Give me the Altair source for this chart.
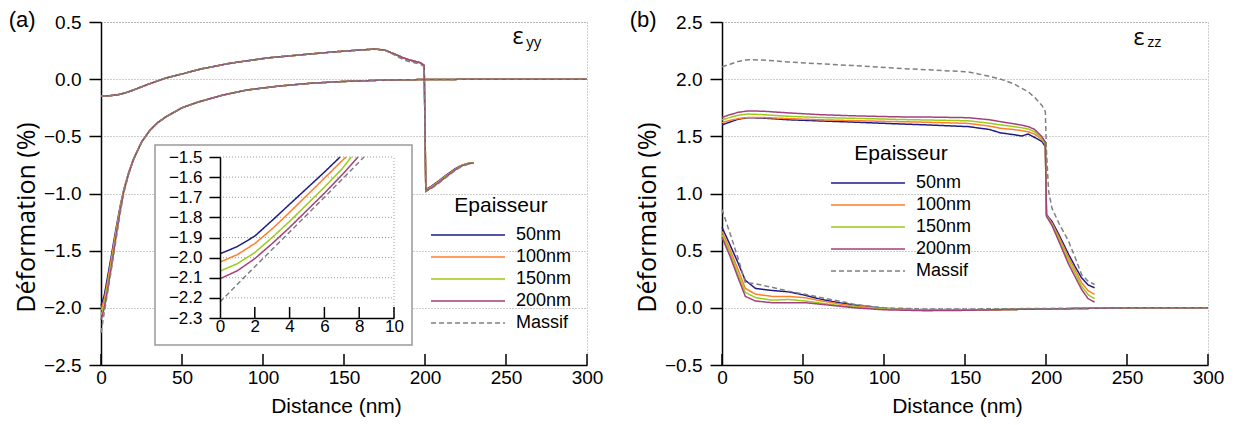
import altair as alt
import pandas as pd

FONT = "Liberation Sans"
TITLE_FONT = "Open Sans"
GRID = "#9a9a9a"

SERIES = ["50nm", "100nm", "150nm", "200nm", "Massif"]
COLORS = ["#1c1c88", "#ff7f2a", "#99cc1a", "#a3407e", "#808080"]
DASHES = [[1, 0], [1, 0], [1, 0], [1, 0], [5, 3]]

X_TICKS = [0, 50, 100, 150, 200, 250, 300]
A_Y_TICKS = [-2.5, -2.0, -1.5, -1.0, -0.5, 0.0, 0.5]
B_Y_TICKS = [-0.5, 0.0, 0.5, 1.0, 1.5, 2.0, 2.5]
IN_X_TICKS = [0, 2, 4, 6, 8, 10]
IN_Y_TICKS = [-2.3, -2.2, -2.1, -2.0, -1.9, -1.8, -1.7, -1.6, -1.5]

# ---- panel (a) eps_yy : film branch (0-230 nm)
A_FILM_X = [0, 5, 10, 15, 20, 30, 40, 50, 62, 80, 103, 125, 145, 160, 169, 175, 182, 186, 190, 194, 197, 199.5,
            200.5, 204, 208, 212, 215, 219, 223, 227, 230]
A_FILM_50 = [-0.148, -0.145, -0.137, -0.12, -0.095, -0.04, 0.01, 0.045, 0.09, 0.14, 0.186, 0.215, 0.24, 0.255, 0.263,
             0.255, 0.215, 0.19, 0.17, 0.155, 0.145, 0.12, -0.965, -0.935, -0.895, -0.85, -0.82, -0.78, -0.75, -0.735, -0.73]
A_FILM_100 = [-0.148, -0.145, -0.137, -0.12, -0.095, -0.04, 0.01, 0.045, 0.09, 0.14, 0.186, 0.215, 0.24, 0.255, 0.263,
              0.255, 0.215, 0.19, 0.17, 0.155, 0.145, 0.12, -0.97, -0.94, -0.9, -0.855, -0.825, -0.785, -0.752, -0.736, -0.73]
A_FILM_150 = [-0.148, -0.145, -0.137, -0.12, -0.095, -0.04, 0.01, 0.045, 0.09, 0.14, 0.186, 0.215, 0.24, 0.255, 0.263,
              0.255, 0.215, 0.19, 0.17, 0.155, 0.145, 0.12, -0.975, -0.945, -0.905, -0.86, -0.83, -0.788, -0.755, -0.738, -0.732]
A_FILM_200 = [-0.148, -0.145, -0.137, -0.12, -0.095, -0.04, 0.01, 0.045, 0.09, 0.14, 0.186, 0.215, 0.24, 0.255, 0.263,
              0.255, 0.215, 0.19, 0.17, 0.155, 0.145, 0.12, -0.978, -0.95, -0.91, -0.865, -0.833, -0.79, -0.757, -0.74, -0.733]
A_FILM_M = [-0.148, -0.145, -0.137, -0.12, -0.095, -0.04, 0.01, 0.045, 0.09, 0.14, 0.186, 0.215, 0.24, 0.255, 0.263,
            0.255, 0.205, 0.175, 0.155, 0.142, 0.132, 0.11, -0.985, -0.955, -0.915, -0.87, -0.838, -0.795, -0.76, -0.742, -0.735]

# ---- panel (a) eps_yy : substrate branch (0-300 nm)
A_SUB_X = [0, 2, 4, 6, 8, 10, 12, 14, 17, 20, 25, 30, 35, 40, 50, 60, 75, 90, 110, 130, 150, 175, 200, 250, 300]
A_SUB_50 = [-1.981, -1.893, -1.735, -1.575, -1.41, -1.25, -1.1, -0.97, -0.82, -0.7, -0.55, -0.45, -0.38, -0.33, -0.25,
            -0.2, -0.14, -0.095, -0.06, -0.035, -0.02, -0.008, -0.003, 0.0, 0.0]
A_SUB_100 = [-2.022, -1.93, -1.775, -1.605, -1.435, -1.27, -1.11, -0.975, -0.822, -0.7, -0.55, -0.45, -0.38, -0.33, -0.25,
             -0.2, -0.14, -0.095, -0.06, -0.035, -0.02, -0.008, -0.003, 0.0, 0.0]
A_SUB_150 = [-2.067, -1.975, -1.82, -1.65, -1.47, -1.29, -1.125, -0.98, -0.825, -0.702, -0.55, -0.45, -0.38, -0.33, -0.25,
             -0.2, -0.14, -0.095, -0.06, -0.035, -0.02, -0.008, -0.003, 0.0, 0.0]
A_SUB_200 = [-2.105, -2.005, -1.85, -1.68, -1.5, -1.31, -1.14, -0.99, -0.83, -0.705, -0.552, -0.45, -0.38, -0.33, -0.25,
             -0.2, -0.14, -0.095, -0.06, -0.035, -0.02, -0.008, -0.003, 0.0, 0.0]
A_SUB_M = [-2.22, -2.045, -1.873, -1.70, -1.52, -1.34, -1.16, -1.0, -0.835, -0.71, -0.555, -0.452, -0.382, -0.332, -0.252,
           -0.2, -0.14, -0.095, -0.06, -0.035, -0.02, -0.008, -0.003, 0.0, 0.0]

# ---- inset of panel (a): zoom on 0-10 nm
IN_X_50 = [0, 1, 2, 3, 4, 5, 6, 6.9]
IN_Y_50 = [-1.981, -1.945, -1.893, -1.815, -1.735, -1.655, -1.575, -1.5]
IN_X_100 = [0, 1, 2, 3, 4, 5, 6, 7, 7.24]
IN_Y_100 = [-2.022, -1.985, -1.93, -1.857, -1.775, -1.69, -1.605, -1.52, -1.5]
IN_X_150 = [0, 1, 2, 3, 4, 5, 6, 7, 7.55]
IN_Y_150 = [-2.067, -2.03, -1.975, -1.9, -1.82, -1.735, -1.65, -1.56, -1.5]
IN_X_200 = [0, 1, 2, 3, 4, 5, 6, 7, 7.93]
IN_Y_200 = [-2.105, -2.065, -2.005, -1.93, -1.85, -1.765, -1.68, -1.59, -1.5]
IN_X_M = [0, 2, 4, 6, 8.28]
IN_Y_M = [-2.22, -2.045, -1.873, -1.70, -1.5]

# ---- panel (b) eps_zz : film branch
B_FILM_X = [0, 5, 10, 16, 25, 41, 60, 80, 103, 111, 130, 152, 165, 172, 180, 185, 189, 193, 197.5, 199.6,
            200.3, 203.7, 208, 214, 218, 222, 226, 230]
B_FILM_50 = [1.60, 1.625, 1.65, 1.663, 1.66, 1.645, 1.635, 1.625, 1.612, 1.608, 1.598, 1.585, 1.56, 1.53, 1.515,
             1.503, 1.52, 1.49, 1.454, 1.41, 0.815, 0.756, 0.64, 0.466, 0.36, 0.262, 0.2, 0.175]
B_FILM_100 = [1.62, 1.64, 1.655, 1.665, 1.665, 1.655, 1.645, 1.638, 1.63, 1.628, 1.622, 1.613, 1.59, 1.57, 1.56,
              1.55, 1.54, 1.52, 1.47, 1.43, 0.81, 0.74, 0.62, 0.44, 0.33, 0.22, 0.15, 0.117]
B_FILM_150 = [1.645, 1.665, 1.685, 1.695, 1.69, 1.675, 1.665, 1.658, 1.65, 1.647, 1.642, 1.636, 1.615, 1.6, 1.585,
              1.575, 1.564, 1.54, 1.48, 1.44, 0.805, 0.73, 0.6, 0.41, 0.3, 0.19, 0.115, 0.08]
B_FILM_200 = [1.665, 1.69, 1.71, 1.722, 1.72, 1.705, 1.69, 1.68, 1.672, 1.67, 1.668, 1.663, 1.645, 1.628, 1.61,
              1.598, 1.585, 1.56, 1.497, 1.45, 0.80, 0.72, 0.58, 0.38, 0.27, 0.16, 0.08, 0.05]
B_FILM_M_X = [0, 5, 10, 16, 25, 41, 60, 80, 103, 111, 130, 152, 165, 172, 180, 185, 189, 193, 197.5, 199.6,
              200.2, 201.6, 203.7, 208, 214, 218, 222, 226, 230]
B_FILM_M = [2.108, 2.13, 2.155, 2.17, 2.168, 2.15, 2.135, 2.12, 2.10, 2.093, 2.08, 2.064, 2.025, 2.0, 1.96,
            1.92, 1.89, 1.84, 1.77, 1.715, 1.4, 1.02, 0.87, 0.74, 0.58, 0.44, 0.29, 0.233, 0.204]

# ---- panel (b) eps_zz : substrate branch
B_SUB_X = [0, 5, 10, 14.4, 20.6, 30.9, 41, 51.4, 61.7, 72, 82, 100, 125, 150, 175, 200, 250, 300]
B_SUB_50 = [0.704, 0.55, 0.39, 0.24, 0.17, 0.152, 0.14, 0.11, 0.073, 0.045, 0.024, -0.005, -0.02, -0.02, -0.015, -0.01, 0.0, 0.0]
B_SUB_100 = [0.67, 0.51, 0.33, 0.17, 0.12, 0.10, 0.10, 0.088, 0.06, 0.035, 0.015, -0.005, -0.02, -0.02, -0.015, -0.01, 0.0, 0.0]
B_SUB_150 = [0.64, 0.48, 0.29, 0.135, 0.09, 0.067, 0.073, 0.06, 0.04, 0.02, 0.007, -0.01, -0.022, -0.02, -0.015, -0.01, 0.0, 0.0]
B_SUB_200 = [0.617, 0.45, 0.26, 0.10, 0.06, 0.045, 0.045, 0.045, 0.03, 0.015, 0.0, -0.017, -0.025, -0.022, -0.015, -0.01, 0.0, 0.0]
B_SUB_M = [0.86, 0.65, 0.43, 0.22, 0.21, 0.18, 0.146, 0.118, 0.088, 0.06, 0.03, 0.0, -0.01, -0.01, -0.008, -0.005, 0.0, 0.0]

W, H = 486, 343
A_DOM = [-2.5, 0.5]
B_DOM = [-0.5, 2.5]


def frame(parts):
    rows = []
    for series, branch, xs, ys in parts:
        for x, y in zip(xs, ys):
            rows.append({"x": x, "y": y, "series": series, "branch": branch})
    return pd.DataFrame(rows)


df_a = frame([
    ("50nm", "film", A_FILM_X, A_FILM_50), ("100nm", "film", A_FILM_X, A_FILM_100),
    ("150nm", "film", A_FILM_X, A_FILM_150), ("200nm", "film", A_FILM_X, A_FILM_200),
    ("Massif", "film", A_FILM_X, A_FILM_M),
    ("50nm", "sub", A_SUB_X, A_SUB_50), ("100nm", "sub", A_SUB_X, A_SUB_100),
    ("150nm", "sub", A_SUB_X, A_SUB_150), ("200nm", "sub", A_SUB_X, A_SUB_200),
    ("Massif", "sub", A_SUB_X, A_SUB_M),
])
df_in = frame([
    ("50nm", "sub", IN_X_50, IN_Y_50), ("100nm", "sub", IN_X_100, IN_Y_100),
    ("150nm", "sub", IN_X_150, IN_Y_150), ("200nm", "sub", IN_X_200, IN_Y_200),
    ("Massif", "sub", IN_X_M, IN_Y_M),
])
df_b = frame([
    ("50nm", "film", B_FILM_X, B_FILM_50), ("100nm", "film", B_FILM_X, B_FILM_100),
    ("150nm", "film", B_FILM_X, B_FILM_150), ("200nm", "film", B_FILM_X, B_FILM_200),
    ("Massif", "film", B_FILM_M_X, B_FILM_M),
    ("50nm", "sub", B_SUB_X, B_SUB_50), ("100nm", "sub", B_SUB_X, B_SUB_100),
    ("150nm", "sub", B_SUB_X, B_SUB_150), ("200nm", "sub", B_SUB_X, B_SUB_200),
    ("Massif", "sub", B_SUB_X, B_SUB_M),
])


def xscale():
    return alt.Scale(domain=[0, 300], nice=False, zero=False)


def yscale(dom):
    return alt.Scale(domain=dom, nice=False, zero=False)


def cscale():
    return alt.Scale(domain=SERIES, range=COLORS)


def dscale():
    return alt.Scale(domain=SERIES, range=DASHES)


def main_x_axis():
    return alt.Axis(values=X_TICKS, format="d", grid=False, ticks=False, tickSize=0,
                    domainColor="black", domainWidth=1.5, labelPadding=3, labelFont=FONT,
                    labelFontSize=19, labelColor="black", labelFlush=False, labelOverlap=False,
                    title="Distance (nm)", titleFont=FONT, titleFontSize=21, titleFontWeight="normal",
                    titleColor="black", titleX=235, titleY=41, titleBaseline="middle", titleAlign="center")


def main_y_axis(vals):
    return alt.Axis(values=vals, format=".1f", grid=True, gridColor=GRID, gridDash=[1, 2], gridWidth=1,
                    domainColor="black", domainWidth=1.5, tickColor="black", tickWidth=1.5, tickSize=12,
                    labelPadding=8, labelFont=FONT, labelFontSize=19, labelColor="black",
                    labelFlush=False, labelOverlap=False,
                    title="Déformation (%)", titleFont=TITLE_FONT, titleFontSize=25, titleFontWeight="normal",
                    titleColor="black", titleX=-75, titleY=195, titleBaseline="middle", titleAlign="center")


def legend(lx, ly):
    return alt.Legend(title="Epaisseur", orient="none", legendX=lx, legendY=ly, direction="vertical",
                      symbolType="stroke", symbolSize=5476, symbolStrokeWidth=1.5, clipHeight=22,
                      rowPadding=0, labelOffset=10, labelFont=FONT, labelFontSize=18, labelColor="black",
                      titleFont=FONT, titleFontSize=21, titleFontWeight="normal", titleColor="black",
                      titleAnchor="middle", titlePadding=8, padding=0)


def main_lines(df, dom, yvals, lg):
    return alt.Chart(df).mark_line(strokeWidth=1.5).encode(
        x=alt.X("x:Q", scale=xscale(), axis=main_x_axis()),
        y=alt.Y("y:Q", scale=yscale(dom), axis=main_y_axis(yvals)),
        color=alt.Color("series:N", scale=cscale(), legend=lg),
        strokeDash=alt.StrokeDash("series:N", scale=dscale(), legend=lg),
        detail="branch:N",
    )


def inward_x_ticks():
    return alt.Chart(pd.DataFrame({"x": X_TICKS})).mark_rule(color="black", strokeWidth=1.5).encode(
        x=alt.X("x:Q", scale=xscale()),
        y=alt.value(H), y2=alt.value(H - 11),
    )


def text_layer(x, y, t, dom, size, font, baseline="middle"):
    df = pd.DataFrame({"x": [x], "y": [y], "t": [t]})
    return alt.Chart(df).mark_text(align="left", baseline=baseline, font=font, fontSize=size,
                                   color="black").encode(
        x=alt.X("x:Q", scale=xscale()),
        y=alt.Y("y:Q", scale=yscale(dom)),
        text="t:N",
    )


# ---------------- panel (a)
main_a = alt.layer(
    main_lines(df_a, A_DOM, A_Y_TICKS, legend(329, 173)),
    inward_x_ticks(),
    text_layer(-57, 0.517, "(a)", A_DOM, 22, FONT),
    text_layer(254, 0.31, "ε", A_DOM, 23, TITLE_FONT, baseline="alphabetic"),
    text_layer(262.5, 0.285, "yy", A_DOM, 15, TITLE_FONT, baseline="alphabetic"),
)

IX = alt.Scale(domain=[0, 10], range=[119, 293], nice=False, zero=False)
IY = alt.Scale(domain=[-2.3, -1.5], range=[296, 135], nice=False, zero=False)

inset_box = alt.Chart(pd.DataFrame({"k": [0]})).mark_rect(fill="white", stroke="#999999", strokeWidth=1.5).encode(
    x=alt.value(54), x2=alt.value(311), y=alt.value(123), y2=alt.value(323))

inset_grid = alt.Chart(pd.DataFrame({"y": IN_Y_TICKS[1:], "x": [0] * 8, "xe": [10] * 8})).mark_rule(
    color=GRID, strokeDash=[1, 2], strokeWidth=1).encode(
    x=alt.X("x:Q", scale=IX), x2="xe:Q", y=alt.Y("y:Q", scale=IY))

inset_right = alt.Chart(pd.DataFrame({"x": [10], "y": [-2.3], "ye": [-1.5]})).mark_rule(
    color=GRID, strokeDash=[1, 2], strokeWidth=1).encode(
    x=alt.X("x:Q", scale=IX), y=alt.Y("y:Q", scale=IY), y2="ye:Q")

inset_lines = alt.Chart(df_in).mark_line(strokeWidth=1.5).encode(
    x=alt.X("x:Q", scale=IX, axis=alt.Axis(
        orient="bottom", offset=-47, values=IN_X_TICKS, format="d", grid=False, ticks=False, tickSize=0,
        domainColor="black", domainWidth=1.5, labelPadding=0, labelFont=FONT, labelFontSize=17,
        labelColor="black", labelFlush=False, labelOverlap=False, title=None, zindex=1)),
    y=alt.Y("y:Q", scale=IY, axis=alt.Axis(
        orient="left", offset=-119, values=IN_Y_TICKS, format=".1f", grid=False,
        domainColor="black", domainWidth=1.5, tickColor="black", tickWidth=1.5, tickSize=11,
        labelPadding=7, labelFont=FONT, labelFontSize=17, labelColor="black", labelFlush=False,
        labelOverlap=False, title=None, zindex=1)),
    color=alt.Color("series:N", scale=cscale(), legend=None),
    strokeDash=alt.StrokeDash("series:N", scale=dscale(), legend=None),
    detail="branch:N",
)

inset_ticks = alt.Chart(pd.DataFrame({"x": IN_X_TICKS[1:]})).mark_rule(color="black", strokeWidth=1.5).encode(
    x=alt.X("x:Q", scale=IX), y=alt.value(296), y2=alt.value(285))

inset_a = alt.layer(inset_box, inset_grid, inset_right, inset_lines, inset_ticks)

panel_a = alt.layer(main_a, inset_a).resolve_scale(x="independent", y="independent").properties(
    width=W, height=H)

# ---------------- panel (b)
panel_b = alt.layer(
    main_lines(df_b, B_DOM, B_Y_TICKS, legend(108, 121)),
    inward_x_ticks(),
    text_layer(-57, 2.517, "(b)", B_DOM, 22, FONT),
    text_layer(254, 2.30, "ε", B_DOM, 23, TITLE_FONT, baseline="alphabetic"),
    text_layer(262.5, 2.28, "zz", B_DOM, 15, TITLE_FONT, baseline="alphabetic"),
).properties(width=W, height=H)

chart = alt.hconcat(panel_a, panel_b, spacing=135, bounds="flush").resolve_legend(
    color="independent", strokeDash="independent"
).properties(padding=0, background="white").configure_view(
    stroke=GRID, strokeDash=[1, 2], strokeWidth=1
)

chart.save("out.html", embed_options={"renderer": "svg", "actions": False})
